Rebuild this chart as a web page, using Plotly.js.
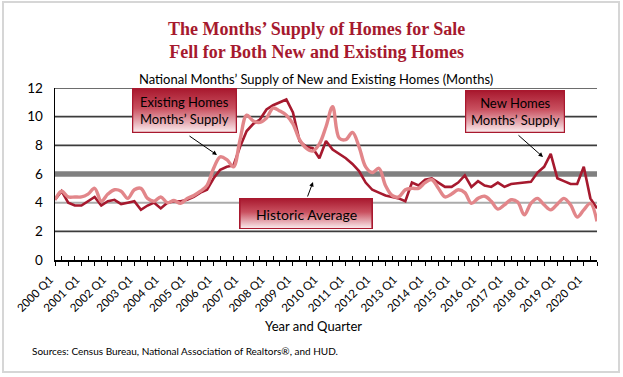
<!DOCTYPE html>
<html>
<head>
<meta charset="utf-8">
<script src="https://cdn.plot.ly/plotly-3.0.1.min.js"></script>
<style>html,body{margin:0;padding:0;background:#fff;}#chart{width:623px;height:377px;}</style>
</head>
<body>
<div id="chart"></div>
<script>
// ---- data ----
const years = [2000,2001,2002,2003,2004,2005,2006,2007,2008,2009,2010,2011,2012,2013,2014,2015,2016,2017,2018,2019,2020];
const quarterNames = ['Q1','Q2','Q3','Q4'];
const lastQuarterOf2020 = 3; // data runs through 2020 Q3
const tickLabels = ['2000 Q1','2001 Q1','2002 Q1','2003 Q1','2004 Q1','2005 Q1','2006 Q1','2007 Q1','2008 Q1','2009 Q1','2010 Q1','2011 Q1','2012 Q1','2013 Q1','2014 Q1','2015 Q1','2016 Q1','2017 Q1','2018 Q1','2019 Q1','2020 Q1'];

// New homes months' supply (dark red line)
const newHomes = [4.2,4.8,4.0,3.8,3.8,4.1,4.4,3.8,4.1,4.2,
                  3.9,4.0,4.1,3.5,3.8,4.0,3.6,4.0,4.1,4.1,
                  4.2,4.4,4.7,4.9,5.7,6.3,6.5,6.6,7.9,9.0,
                  9.5,9.8,10.5,10.8,11.0,11.2,10.3,8.3,7.9,7.8,
                  7.1,8.3,7.7,7.4,7.1,6.7,6.2,5.4,4.9,4.7,
                  4.5,4.4,4.3,4.1,5.4,5.2,5.6,5.7,5.4,5.1,
                  5.1,5.4,5.9,5.1,5.5,5.2,5.1,5.4,5.1,5.3,
                  5.35,5.4,5.45,6.1,6.5,7.4,5.7,5.5,5.3,5.3,
                  6.5,4.3,3.6];
// Existing homes months' supply (light, smoothed line)
const existingHomes = [4.2,4.8,4.4,4.4,4.4,4.6,5.0,4.1,4.6,4.9,
                       4.8,4.3,4.9,5.0,4.3,4.1,4.4,4.0,4.15,3.95,
                       4.3,4.5,4.8,5.2,6.4,7.2,7.0,6.5,8.4,10.1,
                       9.7,9.6,9.9,10.6,10.4,10.1,9.5,8.4,7.8,7.6,
                       8.1,9.3,10.7,8.5,8.4,8.9,7.9,6.5,6.1,6.4,
                       5.2,4.5,4.4,4.9,5.0,5.0,5.4,5.6,5.0,4.4,
                       4.6,4.9,4.7,3.95,4.3,4.45,4.1,3.55,3.85,4.2,
                       4.05,3.15,3.95,4.3,3.85,3.5,3.9,4.3,3.85,3.0,
                       3.5,3.95,2.7];
const historicAverage = 6.0;
const yTicks = [0,2,4,6,8,10,12];

// ---- build categories ----
const quarters = [];
years.forEach(y => quarterNames.forEach((q, k) => {
  if (y < 2020 || k < lastQuarterOf2020) quarters.push(y + ' ' + q);
}));
const xIdx = quarters.map((q, i) => i);
const lastIdx = quarters.length - 1;
const majorVals = xIdx.filter(i => i % 2 === 0);
const majorText = majorVals.map(i => tickLabels.includes(quarters[i]) ? quarters[i] : '');
const minorVals = xIdx.filter(i => i % 2 === 1);

const DARK = '#A6192E';
const LIGHT = '#E2868A';
const FONT = 'Lato, "Open Sans", sans-serif';

const traces = [
  {x: [0, lastIdx], y: [historicAverage, historicAverage], mode: 'lines',
   line: {color: '#808080', width: 5.5}, hoverinfo: 'skip', showlegend: false},
  {x: xIdx, y: newHomes, mode: 'lines', name: 'New Homes',
   line: {color: DARK, width: 2.6}, showlegend: false},
  {x: xIdx, y: existingHomes, mode: 'lines', name: 'Existing Homes',
   line: {color: LIGHT, width: 3.4, shape: 'spline', smoothing: 1}, showlegend: false}
];

// plot area in pixels: x 55..597, y 88..260
const L = 55, R = 597, T = 88, B = 260;
const px = v => (v - L) / (R - L);
const py = v => (B - v) / (B - T);

const grid = [{v: 2, c: '#3c3c3c', w: 1.6}, {v: 4, c: '#ababab', w: 2}, {v: 8, c: '#3c3c3c', w: 1.6},
              {v: 10, c: '#3c3c3c', w: 1.6}, {v: 12, c: '#3c3c3c', w: 1.6}];
const shapes = grid.map(g => ({type: 'line', xref: 'paper', yref: 'y', x0: 0, x1: 1, y0: g.v, y1: g.v,
  line: {color: g.c, width: g.w}, layer: 'below'}));
shapes.push({type: 'rect', xref: 'paper', yref: 'paper', x0: px(3), x1: px(619), y0: py(372), y1: py(2),
  line: {color: '#d6d6d6', width: 2}, fillcolor: 'rgba(0,0,0,0)', layer: 'below'});

const boxSrc = 'data:image/svg+xml;utf8,' + encodeURIComponent(
  '<svg xmlns="http://www.w3.org/2000/svg" width="100" height="40" viewBox="0 0 100 40" preserveAspectRatio="none">' +
  '<defs><linearGradient id="g" x1="0" y1="0" x2="0" y2="1">' +
  '<stop offset="0" stop-color="#A8182E"/><stop offset="0.45" stop-color="#C9505F"/><stop offset="1" stop-color="#FBEDEF"/>' +
  '</linearGradient></defs>' +
  '<rect x="0.6" y="0.6" width="98.8" height="38.8" fill="url(#g)" stroke="#A8182E" stroke-width="1.2" vector-effect="non-scaling-stroke"/></svg>');

function box(x0, y0, x1, y1) {
  return {source: boxSrc, xref: 'paper', yref: 'paper', x: px(x0), y: py(y0),
    sizex: px(x1) - px(x0), sizey: py(y0) - py(y1), sizing: 'stretch',
    xanchor: 'left', yanchor: 'top', layer: 'above'};
}
const images = [box(132, 88, 237, 133), box(239, 198, 373, 229), box(465, 90, 565, 133)];

function txt(text, x, y, size, extra) {
  return Object.assign({text: text, xref: 'paper', yref: 'paper', x: px(x), y: py(y),
    xanchor: 'center', yanchor: 'middle',
    showarrow: false, font: {family: FONT, size: size, color: '#000'}}, extra || {});
}
function arrow(hx, hy, tx, ty) {
  return {text: '', xref: 'paper', yref: 'paper', x: px(hx), y: py(hy), ax: tx - hx, ay: ty - hy,
    showarrow: true, arrowhead: 2, arrowsize: 0.9, arrowwidth: 1, arrowcolor: '#000'};
}

const annotations = [
  txt('<b>The Months’ Supply of Homes for Sale<br>Fell for Both New and Existing Homes</b>', 316, 41, 18,
      {font: {family: '"Liberation Serif", "DejaVu Serif", serif', size: 18, color: DARK}}),
  txt('National Months’ Supply of New and Existing Homes (Months)', 316, 79, 13),
  txt('Existing Homes<br>Months’ Supply', 184.5, 110.5, 13),
  txt('Historic Average', 306, 214, 14),
  txt('New Homes<br>Months’ Supply', 515, 111.5, 13),
  txt('Year and Quarter', 313, 326, 13),
  txt('Sources: Census Bureau, National Association of Realtors®, and HUD.', 30, 351, 10, {xanchor: 'left'}),
  arrow(217, 155, 188, 135),
  arrow(313, 182, 307, 198),
  arrow(543, 157, 517, 134)
];

const layout = {
  width: 623, height: 377,
  margin: {l: L, r: 623 - R, t: T, b: 377 - B, pad: 0},
  paper_bgcolor: '#fff', plot_bgcolor: '#fff',
  font: {family: FONT, color: '#000'},
  showlegend: false,
  xaxis: {range: [0, lastIdx], tickmode: 'array', tickvals: majorVals, ticktext: majorText,
    ticks: 'outside', ticklen: 4, tickcolor: '#000', tickwidth: 1,
    minor: {tickmode: 'array', tickvals: minorVals, ticks: 'inside', ticklen: 4, tickcolor: '#000', tickwidth: 1, showgrid: false},
    showline: true, linecolor: '#000', linewidth: 1.5, showgrid: false, zeroline: false,
    tickangle: -45, ticklabelshift: -5, ticklabelstandoff: 3,
    tickfont: {family: FONT, size: 11.5, color: '#000'}, fixedrange: true},
  yaxis: {range: [0, 12], tickmode: 'array', tickvals: yTicks, ticks: '',
    showline: true, linecolor: '#000', linewidth: 1.5, showgrid: false, zeroline: false,
    ticklabelstandoff: 8, tickfont: {family: FONT, size: 13.5, color: '#000'}, fixedrange: true},
  shapes: shapes,
  images: images,
  annotations: annotations
};

Plotly.newPlot('chart', traces, layout, {displayModeBar: false, staticPlot: true});
</script>
</body>
</html>
